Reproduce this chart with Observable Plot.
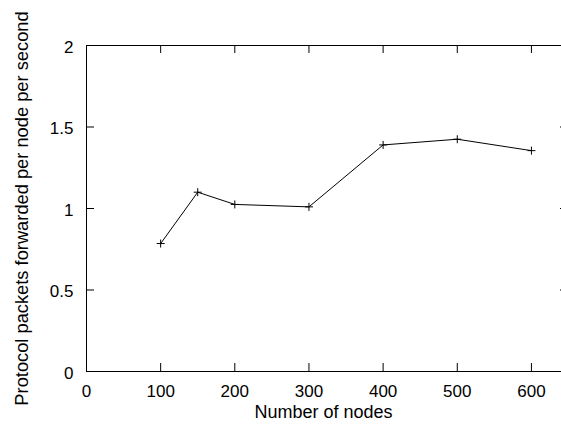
<!DOCTYPE html>
<html>
<head>
<meta charset="utf-8">
<script src="https://cdn.jsdelivr.net/npm/d3@7"></script>
<script src="https://cdn.jsdelivr.net/npm/@observablehq/plot@0.6"></script>
<style>
  html, body { margin: 0; padding: 0; background: #fff; overflow: hidden; }
  #chart { width: 561px; height: 426px; overflow: hidden; }
  #chart svg { display: block; }
</style>
</head>
<body>
<div id="chart"></div>
<script>
const nodes = [100, 150, 200, 300, 400, 500, 600];
const packets = [0.785, 1.10, 1.025, 1.01, 1.39, 1.425, 1.355];
const xTicks = [0, 100, 200, 300, 400, 500, 600];
const yTicks = [0, 0.5, 1, 1.5, 2];
const yTickLabels = ["0", "0.5", "1", "1.5", "2"];
const xDomain = [0, 650];
const yDomain = [0, 2];
const xLabel = "Number of nodes";
const yLabel = "Protocol packets forwarded per node per second";

const data = nodes.map((n, i) => ({n, v: packets[i]}));

const plusSymbol = {
  draw(ctx, size) {
    const r = Math.sqrt(size / Math.PI);
    ctx.moveTo(-r, 0); ctx.lineTo(r, 0);
    ctx.moveTo(0, -r); ctx.lineTo(0, r);
  }
};

const W = 561, H = 426, ML = 86, MR = -7, MT = 45, MB = 55;
const fw = W - ML - MR, fh = H - MT - MB, tl = 8;

const chart = Plot.plot({
  width: W,
  height: H,
  marginLeft: ML,
  marginRight: MR,
  marginTop: MT,
  marginBottom: MB,
  style: {fontFamily: "'Liberation Sans', Arial, Helvetica, sans-serif", fontSize: "17px", color: "black", background: "white"},
  x: {domain: xDomain},
  y: {domain: yDomain},
  marks: [
    Plot.axisX(xTicks, {anchor: "bottom", tickSize: 0, tickPadding: 13, fontSize: 17, label: null}),
    Plot.axisY(yTicks, {anchor: "left", tickSize: 0, tickPadding: 13, fontSize: 17, dy: 2, label: null, tickFormat: (d, i) => yTickLabels[i]}),
    Plot.tickX(xTicks, {x: d => d, insetTop: fh - tl, stroke: "black"}),
    Plot.tickX(xTicks, {x: d => d, insetBottom: fh - tl, stroke: "black"}),
    Plot.tickY(yTicks, {y: d => d, insetRight: fw - tl, stroke: "black"}),
    Plot.tickY(yTicks, {y: d => d, insetLeft: fw - tl, stroke: "black"}),
    Plot.ruleY(yDomain, {stroke: "black", strokeWidth: 1}),
    Plot.ruleX([xDomain[0]], {stroke: "black", strokeWidth: 1}),
    Plot.line(data, {x: "n", y: "v", stroke: "black", strokeWidth: 1}),
    Plot.dot(data, {x: "n", y: "v", symbol: plusSymbol, r: 4, stroke: "black", fill: "none", strokeWidth: 1}),
    Plot.text([xLabel], {frameAnchor: "bottom", dy: 46, dx: -4, fontSize: 18, fill: "black", textAnchor: "middle"}),
    Plot.text([yLabel], {frameAnchor: "left", dx: -64.5, rotate: -90, fontSize: 18.3, fill: "black", textAnchor: "middle"})
  ]
});
document.getElementById("chart").appendChild(chart);
</script>
</body>
</html>
